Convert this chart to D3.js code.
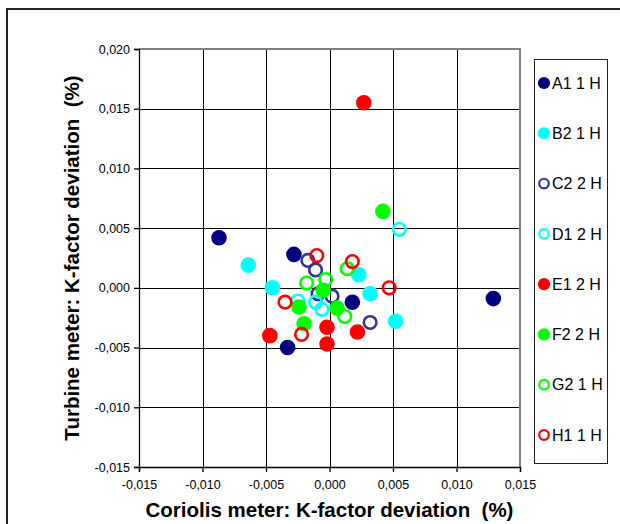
<!DOCTYPE html>
<html><head><meta charset="utf-8">
<script src="https://cdn.jsdelivr.net/npm/d3@7"></script>
<style>body{margin:0;background:#fff}svg{display:block}text{white-space:pre}</style>
</head><body>
<svg id="chart" width="620" height="524"></svg>
<script>
// ---- data ----
const seriesNames = ["A1 1 H","B2 1 H","C2 2 H","D1 2 H","E1 2 H","F2 2 H","G2 1 H","H1 1 H"];
const seriesColors = ["#000080","#00FFFF","#333399","#00FFFF","#FF0000","#00FF00","#00FF00","#FF0000"];
const seriesFilled = [true,true,false,false,true,true,false,false];
const A1 = [[-0.0087,0.0042],[-0.0028,0.0028],[0.0018,-0.0012],[-0.0033,-0.0050],[0.0129,-0.0009]];
const B2 = [[-0.0064,0.0019],[-0.0045,0.0000],[0.0023,0.0011],[0.0032,-0.0005],[0.0052,-0.0028]];
const C2 = [[-0.0017,0.0023],[-0.0011,0.0015],[0.0002,-0.0007],[-0.0009,-0.0005],[0.0032,-0.0029]];
const D1 = [[0.0055,0.0049],[-0.0025,-0.0011],[-0.0011,-0.0012],[-0.0006,-0.0018]];
const E1 = [[0.0027,0.0155],[-0.0047,-0.0040],[-0.0002,-0.0033],[-0.0002,-0.0047],[0.0022,-0.0037]];
const F2 = [[0.0042,0.0064],[-0.0005,-0.0002],[-0.0024,-0.0016],[-0.0020,-0.0030],[0.0006,-0.0017]];
const G2 = [[-0.0018,0.0004],[-0.0003,0.0007],[0.0014,0.0016],[0.0012,-0.0024]];
const H1 = [[-0.0010,0.0027],[0.0018,0.0022],[0.0047,0.0000],[-0.0035,-0.0012],[-0.0022,-0.0039]];
const seriesData = [A1,B2,C2,D1,E1,F2,G2,H1];
const xTicks = [-0.015,-0.010,-0.005,0.000,0.005,0.010,0.015];
const yTicks = [-0.015,-0.010,-0.005,0.000,0.005,0.010,0.015,0.020];
const xTitle = "Coriolis meter: K-factor deviation  (%)";
const yTitle = "Turbine meter: K-factor deviation  (%)";

// ---- layout ----
const svg = d3.select("#chart");
const L = 139, R = 520, T = 49, B = 467;
const x = d3.scaleLinear().domain([-0.015, 0.015]).range([L, R]);
const y = d3.scaleLinear().domain([-0.015, 0.020]).range([B, T]);
const loc = d3.formatLocale({decimal:",", thousands:".", grouping:[3], currency:["",""], minus:"-"});
const fmt = loc.format(".3f");

// outer frame
svg.append("path").attr("d","M7,530 L7,9 L630,9").attr("fill","none").attr("stroke","#222").attr("stroke-width",2);

// gridlines
const g = svg.append("g");
g.selectAll("line.vg").data(xTicks.slice(1,-1)).join("line")
  .attr("x1",d=>Math.round(x(d))+0.5).attr("x2",d=>Math.round(x(d))+0.5)
  .attr("y1",T).attr("y2",B).attr("stroke","#000").attr("stroke-width",1);
g.selectAll("line.hg").data(yTicks.slice(1,-1)).join("line")
  .attr("y1",d=>Math.round(y(d))+0.5).attr("y2",d=>Math.round(y(d))+0.5)
  .attr("x1",L).attr("x2",R).attr("stroke","#000").attr("stroke-width",1);
// plot border top/right (gray)
svg.append("path").attr("d",`M${L},${T} L${R},${T} L${R},${B}`).attr("fill","none").attr("stroke","#808080").attr("stroke-width",2);

// axes
const xAxis = d3.axisBottom(x).tickValues(xTicks).tickFormat(fmt).tickSize(5).tickPadding(8);
const yAxis = d3.axisLeft(y).tickValues(yTicks).tickFormat(fmt).tickSize(5).tickPadding(4);
const gx = svg.append("g").attr("transform",`translate(0,${B})`).call(xAxis);
const gy = svg.append("g").attr("transform",`translate(${L},0)`).call(yAxis);
[gx,gy].forEach(a=>{
  a.selectAll("path,line").attr("stroke","#000").attr("stroke-width",1.3);
  a.selectAll("text").attr("font-family","'Liberation Sans', Arial, sans-serif").attr("font-size","12.5px").attr("fill","#000");
});

// points
seriesData.forEach((data,i)=>{
  svg.append("g").selectAll("circle").data(data).join("circle")
    .attr("cx",d=>x(d[0])).attr("cy",d=>y(d[1]))
    .attr("r", seriesFilled[i] ? 7.8 : 6.3)
    .attr("fill", seriesFilled[i] ? seriesColors[i] : "none")
    .attr("stroke", seriesFilled[i] ? "none" : seriesColors[i])
    .attr("stroke-width", 2.6);
});

// titles
svg.append("text").attr("x",(L+R)/2).attr("y",517).attr("text-anchor","middle")
  .attr("font-family","'Liberation Sans', Arial, sans-serif").attr("font-weight","bold").attr("font-size","20.5px")
  .text(xTitle);
svg.append("text").attr("transform",`translate(79,${(T+B)/2}) rotate(-90)`).attr("text-anchor","middle")
  .attr("font-family","'Liberation Sans', Arial, sans-serif").attr("font-weight","bold").attr("font-size","20.5px")
  .text(yTitle);

// legend
const lg = svg.append("g");
lg.append("rect").attr("x",534.5).attr("y",59.5).attr("width",73).attr("height",404)
  .attr("fill","#fff").attr("stroke","#222").attr("stroke-width",1);
const ly = d3.scalePoint().domain(seriesNames).range([83,435]);
seriesNames.forEach((n,i)=>{
  const cy = ly(n);
  lg.append("circle").attr("cx",544).attr("cy",cy)
    .attr("r", seriesFilled[i] ? 6.1 : 4.8)
    .attr("fill", seriesFilled[i] ? seriesColors[i] : "none")
    .attr("stroke", seriesFilled[i] ? "none" : seriesColors[i])
    .attr("stroke-width", 2.2);
  lg.append("text").attr("x",552).attr("y",cy).attr("dy","0.36em")
    .attr("font-family","'Liberation Sans', Arial, sans-serif").attr("font-size","16px").text(n);
});
</script>
</body></html>
